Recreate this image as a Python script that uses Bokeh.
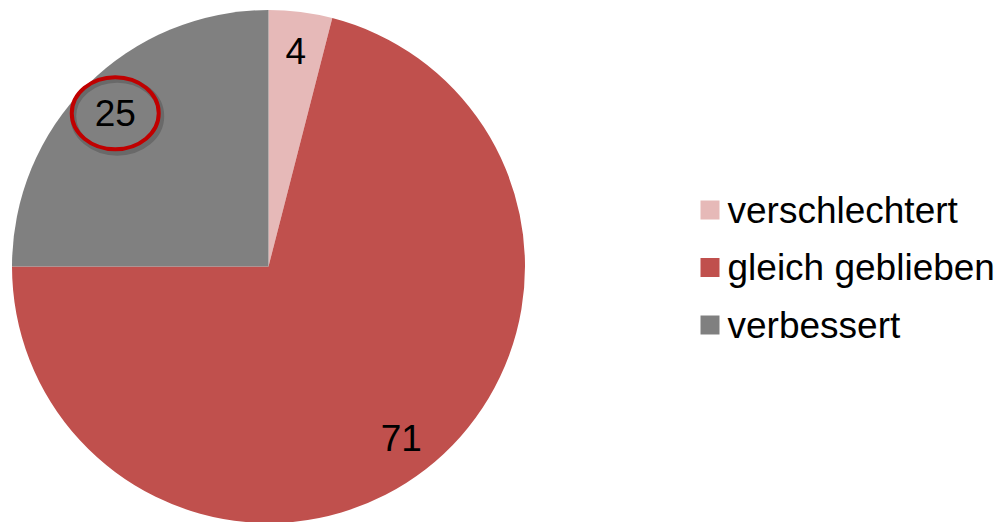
import math
from bokeh.plotting import figure
from bokeh.models import ColumnDataSource
from bokeh.core.properties import value
from bokeh.embed import file_html
from bokeh.resources import INLINE

# ---- data ----
categories = ["verschlechtert", "gleich geblieben", "verbessert"]
values = [4, 71, 25]
colors = ["#E6B9B8", "#C0504D", "#808080"]
highlight = "verbessert"

W, H = 999, 522
FONT = "Liberation Sans"

p = figure(width=W, height=H, x_range=(0, W), y_range=(0, H),
           output_backend="svg", toolbar_location=None,
           min_border=0, outline_line_color=None)
p.axis.visible = False
p.grid.visible = False
p.background_fill_color = "white"
p.border_fill_color = "white"

# pie geometry (figure pixel units)
cx, cy, R = 268, 256, 256.5
total = sum(values)
starts, ends, mids = [], [], []
a = math.pi / 2
for v in values:
    sweep = 2 * math.pi * v / total
    starts.append(a)
    ends.append(a - sweep)
    mids.append(a - sweep / 2)
    a -= sweep

src = ColumnDataSource(dict(start=starts, end=ends, color=colors, cat=categories))
p.wedge(x=cx, y=cy, radius=R, start_angle="start", end_angle="end",
        direction="clock", fill_color="color", line_color=None, source=src)

# data labels
lr = 0.845 * R
lx = [cx + lr * math.cos(m) for m in mids]
ly = [cy + lr * math.sin(m) for m in mids]
lsrc = ColumnDataSource(dict(x=lx, y=ly, t=[str(v) for v in values]))
p.text(x="x", y="y", text="t", source=lsrc, text_align="center",
       text_baseline="middle", text_font=value(FONT),
       text_font_size="37px", text_color="black")

# highlight ellipse around the "verbessert" label
hi = categories.index(highlight)
ex, ey = lx[hi], ly[hi]
p.ellipse(x=ex + 2, y=ey - 3, width=88, height=73, fill_color=None,
          line_color="black", line_alpha=0.18, line_width=6)
p.ellipse(x=ex, y=ey, width=87, height=72, fill_color=None,
          line_color="#C00000", line_width=4)

# legend (manual)
leg_x = 709.5
leg_y0 = 312.5
step = 57.5
ys = [leg_y0 - i * step for i in range(len(categories))]
lg = ColumnDataSource(dict(x=[leg_x] * len(categories), y=ys, color=colors,
                           tx=[leg_x + 17.5] * len(categories), cat=categories))
p.rect(x="x", y="y", width=19, height=19, fill_color="color", line_color=None, source=lg)
p.text(x="tx", y="y", text="cat", source=lg, text_align="left",
       text_baseline="middle", text_font=value(FONT),
       text_font_size="37px", text_color="black")

open("out.html", "w").write(file_html(p, INLINE))
